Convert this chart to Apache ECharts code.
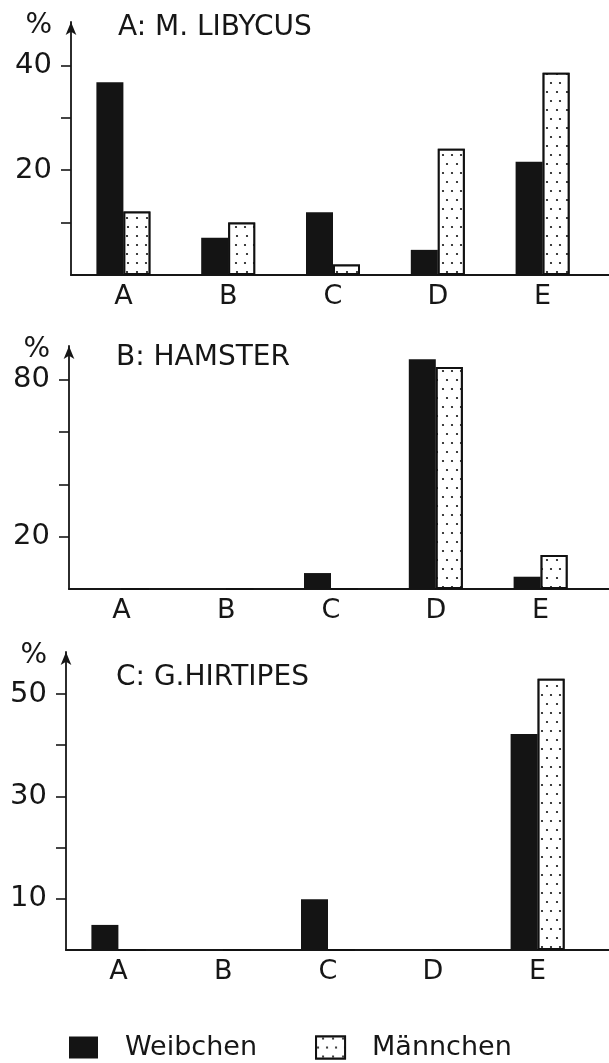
<!DOCTYPE html>
<html>
	<head>
		<meta charset="utf-8">
		<title>Weibchen / Männchen</title>
		<style type="text/css">
			* {
				margin: 0;
				padding: 0;
			}

			html,
			body {
				width: 100%;
				height: 100%;
				background: #fff;
			}

			#box {
				width: 609px;
				height: 1063px;
			}
		</style>
	</head>
	<body>
		<div id="box"></div>
		<script type="text/javascript" src="https://cdn.jsdelivr.net/npm/echarts@6/dist/echarts.min.js"></script>
		<script type="text/javascript">
			// categories
			var kategorien = ['A', 'B', 'C', 'D', 'E']
			var titel = ['A: M. LIBYCUS', 'B: HAMSTER', 'C: G.HIRTIPES']

			// A: M. libycus
			var weibchenA = [36.8, 7.1, 12, 4.8, 21.6]
			var maennchenA = [12.1, 10, 2, 24.1, 38.6]
			// B: Hamster
			var weibchenB = [0, 0, 6.1, 87.9, 4.7]
			var maennchenB = [0, 0, 0, 85, 13]
			// C: G. hirtipes
			var weibchenC = [4.9, 0, 9.9, 0, 42.2]
			var maennchenC = [0, 0, 0, 0, 53]

			// y axis: max, ticks, labelled ticks
			var yMax = [48.3, 93, 58.2]
			var yTicks = [[10, 20, 30, 40], [20, 40, 60, 80], [10, 20, 30, 40, 50]]
			var yLabels = [[20, 40], [20, 80], [10, 30, 50]]

			var font = 'DejaVu Sans'
			var ink = '#161616'

			// layout of the three panels
			var grids = [
				{ left: 71, right: 14, top: 22, height: 253 },
				{ left: 69, right: 16, top: 346, height: 243 },
				{ left: 66, right: 19, top: 652, height: 298 }
			]
			var titlePos = [[113, 9], [111, 339], [111, 659]]

			var punkte = {
				symbol: 'circle',
				symbolSize: 0.55,
				color: '#111',
				backgroundColor: '#fff',
				dashArrayX: [[4, 5], [0, 4.5, 4, 0.5]],
				dashArrayY: [4, 5]
			}

			window.onload = function() {
				charts()
			}

			function charts() {
				var myChart = echarts.init(document.getElementById('box'))
				var weib = [weibchenA, weibchenB, weibchenC]
				var maenn = [maennchenA, maennchenB, maennchenC]

				var xAxis = []
				var yAxis = []
				var series = []
				var title = []
				for (let i = 0; i < 3; i++) {
					title.push({
						text: titel[i],
						left: titlePos[i][0],
						top: titlePos[i][1],
						textStyle: {
							fontFamily: font,
							fontSize: 28,
							fontWeight: 'normal',
							color: ink
						}
					})
					xAxis.push({
						type: 'category',
						gridIndex: i,
						data: kategorien,
						axisLine: { lineStyle: { color: ink, width: 2 } },
						axisTick: { show: false },
						axisLabel: {
							fontFamily: font,
							fontSize: 27,
							color: ink,
							margin: 8
						}
					})
					yAxis.push({
						type: 'value',
						gridIndex: i,
						min: 0,
						max: yMax[i],
						name: '%',
						nameLocation: 'end',
						nameGap: -4,
						nameTextStyle: {
							fontFamily: font,
							fontSize: 28,
							color: ink,
							align: 'right',
							verticalAlign: 'middle',
							padding: [0, 19, 0, 0]
						},
						splitLine: { show: false },
						axisLine: {
							show: true,
							symbol: ['none', 'arrow'],
							symbolSize: [8, 13],
							lineStyle: { color: ink, width: 1.8 }
						},
						axisTick: {
							show: true,
							length: 10,
							customValues: yTicks[i],
							lineStyle: { color: ink, width: 1.6 }
						},
						axisLabel: {
							customValues: yLabels[i],
							fontFamily: font,
							fontSize: 29,
							color: ink,
							margin: 19
						}
					})
					series.push({
						name: 'Weibchen',
						type: 'bar',
						xAxisIndex: i,
						yAxisIndex: i,
						barWidth: 27,
						barGap: '0%',
						data: weib[i],
						itemStyle: { color: '#141414' }
					})
					series.push({
						name: 'Männchen',
						type: 'bar',
						xAxisIndex: i,
						yAxisIndex: i,
						barWidth: 27,
						barGap: '0%',
						data: maenn[i],
						itemStyle: {
							color: '#fff',
							borderColor: '#111',
							borderWidth: 2,
							decal: punkte
						}
					})
				}

				var option = {
					backgroundColor: '#fff',
					animation: false,
					title: title,
					grid: grids,
					xAxis: xAxis,
					yAxis: yAxis,
					legend: {
						left: 64,
						top: 1029,
						itemWidth: 29,
						itemHeight: 22,
						itemGap: 58,
						icon: 'rect',
						data: ['Weibchen', 'Männchen'],
						textStyle: {
							fontFamily: font,
							fontSize: 27,
							color: ink,
							padding: [0, 0, 0, 22]
						}
					},
					series: series
				}
				myChart.setOption(option)

				// the x axis line runs on to the right edge
				var extra = []
				for (let i = 0; i < 3; i++) {
					var y0 = myChart.convertToPixel({ yAxisIndex: i }, 0)
					extra.push({
						type: 'line',
						shape: { x1: 609 - grids[i].right, y1: y0, x2: 609, y2: y0 },
						style: { stroke: ink, lineWidth: 2 }
					})
				}
				myChart.setOption({ graphic: extra })
			}
		</script>
	</body>
</html>
